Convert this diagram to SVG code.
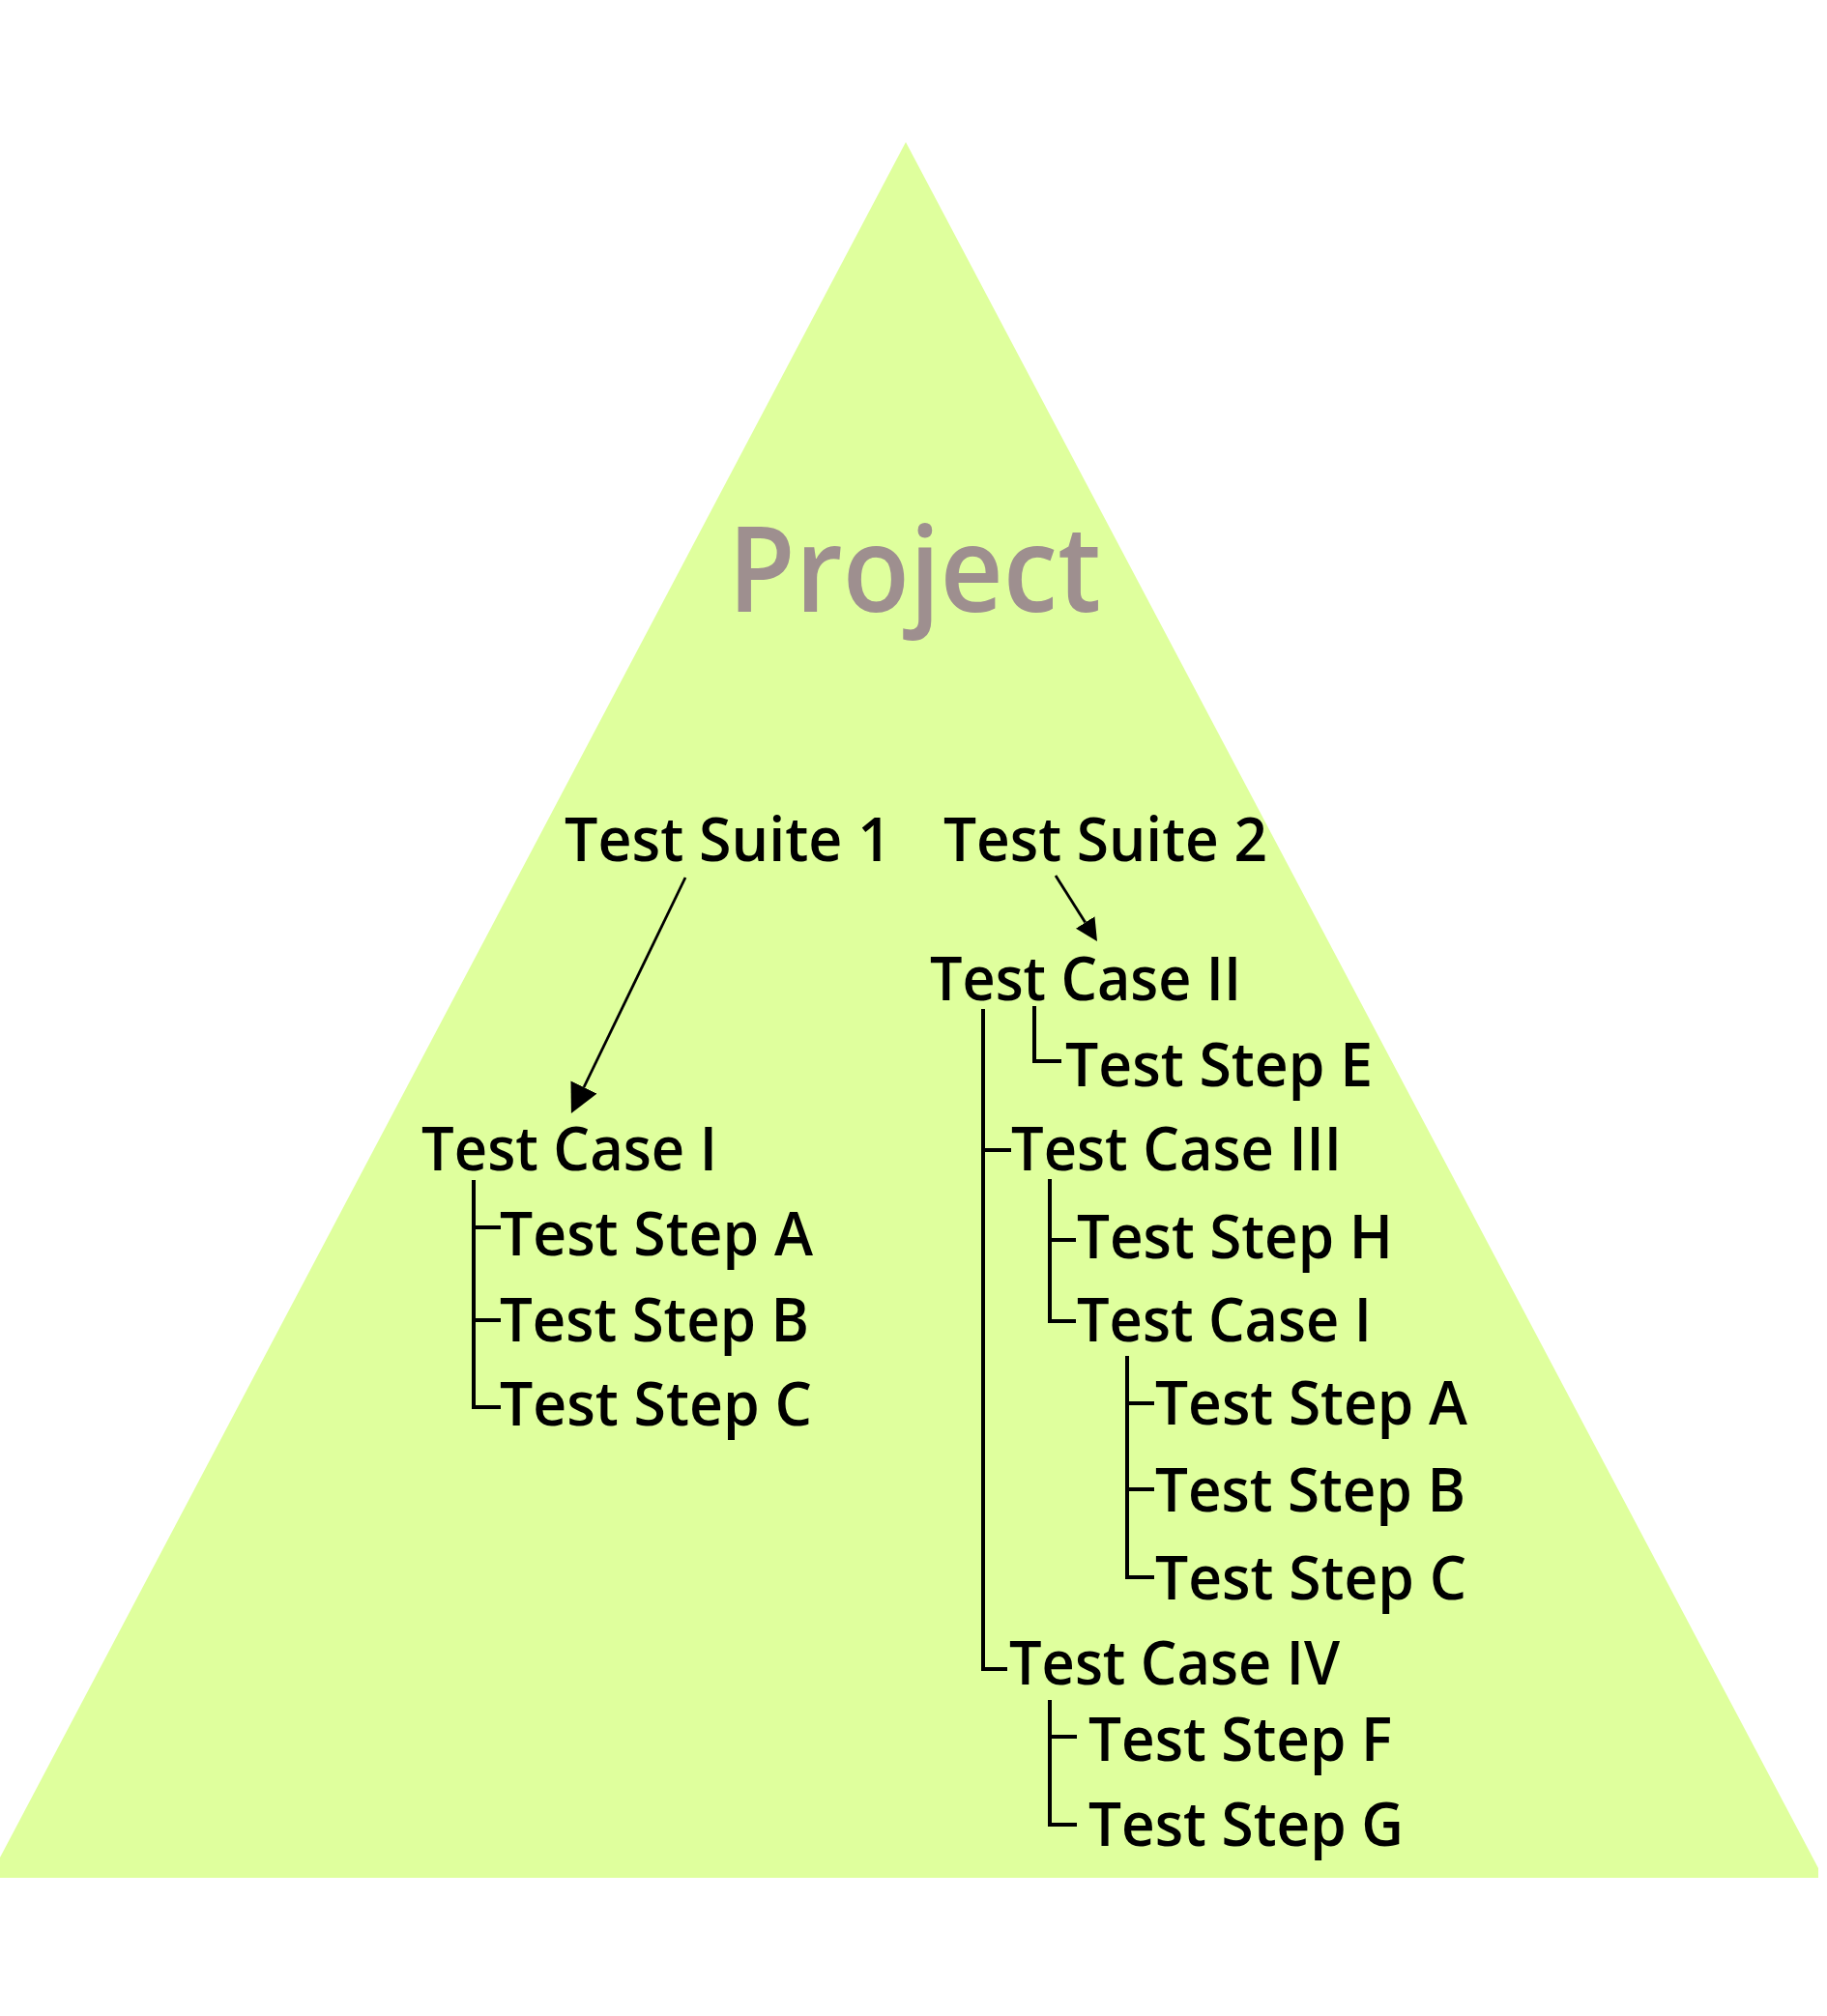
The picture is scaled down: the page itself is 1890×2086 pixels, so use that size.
<svg xmlns="http://www.w3.org/2000/svg" width="1890" height="2086" viewBox="0 0 1890 2086">
<style>
.lbl{font-family:"Open Sans","Liberation Sans",sans-serif;font-size:64px;font-weight:600;fill:#000}
.title{font-family:"Open Sans","Liberation Sans",sans-serif;font-size:124px;font-weight:600;fill:#9e8f8f}
.tree{fill:none;stroke:#000;stroke-width:4;stroke-linecap:butt;stroke-linejoin:miter}
.arr{fill:none;stroke:#000;stroke-width:2.8}
</style>
<defs>
<marker id="headL" markerUnits="userSpaceOnUse" viewBox="0 0 10 10" refX="0" refY="5" markerWidth="30" markerHeight="30" orient="auto"><path d="M0,0 L10,5 L0,10 z" fill="#000"/></marker>
<marker id="headS" markerUnits="userSpaceOnUse" viewBox="0 0 10 10" refX="0" refY="5" markerWidth="23" markerHeight="25" orient="auto"><path d="M0,0 L10,5 L0,10 z" fill="#000"/></marker>
</defs>
<rect width="1890" height="2086" fill="#fff"/>
<polygon id="pyramid" points="937,147 1881,1933 1881,1943 0,1943 0,1922" fill="#dfff9d"/>
<g id="project"><text class="title" x="753" y="633" textLength="386" lengthAdjust="spacingAndGlyphs">Project</text></g>
<g id="suite1"><text class="lbl" x="584" y="891" textLength="338" lengthAdjust="spacingAndGlyphs">Test Suite 1</text></g>
<g id="suite2"><text class="lbl" x="976" y="891" textLength="335" lengthAdjust="spacingAndGlyphs">Test Suite 2</text></g>
<g id="caseI-left"><text class="lbl" x="436" y="1211" textLength="306" lengthAdjust="spacingAndGlyphs">Test Case I</text></g>
<g id="stepA-left"><text class="lbl" x="517" y="1299" textLength="324" lengthAdjust="spacingAndGlyphs">Test Step A</text></g>
<g id="stepB-left"><text class="lbl" x="517" y="1388" textLength="320" lengthAdjust="spacingAndGlyphs">Test Step B</text></g>
<g id="stepC-left"><text class="lbl" x="517" y="1475" textLength="323" lengthAdjust="spacingAndGlyphs">Test Step C</text></g>
<g id="caseII"><text class="lbl" x="962" y="1035" textLength="322" lengthAdjust="spacingAndGlyphs">Test Case II</text></g>
<g id="stepE"><text class="lbl" x="1102" y="1124" textLength="318" lengthAdjust="spacingAndGlyphs">Test Step E</text></g>
<g id="caseIII"><text class="lbl" x="1046" y="1211" textLength="342" lengthAdjust="spacingAndGlyphs">Test Case III</text></g>
<g id="stepH"><text class="lbl" x="1114" y="1302" textLength="327" lengthAdjust="spacingAndGlyphs">Test Step H</text></g>
<g id="caseI-right"><text class="lbl" x="1114" y="1388" textLength="305" lengthAdjust="spacingAndGlyphs">Test Case I</text></g>
<g id="stepA-right"><text class="lbl" x="1195" y="1474" textLength="323" lengthAdjust="spacingAndGlyphs">Test Step A</text></g>
<g id="stepB-right"><text class="lbl" x="1195" y="1564" textLength="321" lengthAdjust="spacingAndGlyphs">Test Step B</text></g>
<g id="stepC-right"><text class="lbl" x="1195" y="1655" textLength="322" lengthAdjust="spacingAndGlyphs">Test Step C</text></g>
<g id="caseIV"><text class="lbl" x="1044" y="1743" textLength="342" lengthAdjust="spacingAndGlyphs">Test Case IV</text></g>
<g id="stepF"><text class="lbl" x="1126" y="1822" textLength="314" lengthAdjust="spacingAndGlyphs">Test Step F</text></g>
<g id="stepG"><text class="lbl" x="1126" y="1910" textLength="326" lengthAdjust="spacingAndGlyphs">Test Step G</text></g>
<g id="connectors">
<path class="arr" d="M709,908 L604,1125" marker-end="url(#headL)"/>
<path class="arr" d="M1092,906 L1122.7,954.5" marker-end="url(#headS)"/>
<path class="tree" d="M490,1221 V1458 M490,1270 H518 M490,1366 H518 M490,1456 H518"/>
<path class="tree" d="M1017,1044 V1727 H1042 M1017,1190 H1046"/>
<path class="tree" d="M1070,1041 V1098 H1098"/>
<path class="tree" d="M1086,1220 V1367 H1113 M1086,1283 H1113"/>
<path class="tree" d="M1166,1403 V1632 H1194 M1166,1452 H1194 M1166,1541 H1194"/>
<path class="tree" d="M1086,1759 V1888 H1114 M1086,1797 H1114"/>
</g>
</svg>
